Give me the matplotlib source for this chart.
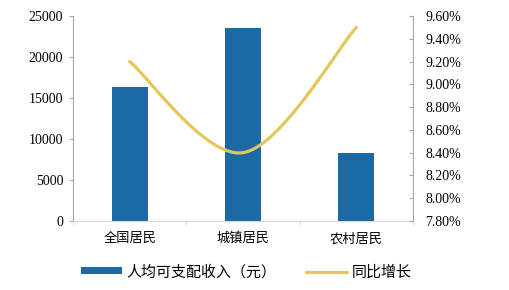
import matplotlib
matplotlib.use("Agg")
from matplotlib import pyplot as plt
import numpy as np

# data
categories = ["全国居民", "城镇居民", "农村居民"]
income = [16300, 23500, 8300]          # 人均可支配收入（元）
growth = [9.2, 8.4, 9.5]               # 同比增长 (%)
left_ticks = [0, 5000, 10000, 15000, 20000, 25000]
right_ticks = [7.8, 8.0, 8.2, 8.4, 8.6, 8.8, 9.0, 9.2, 9.4, 9.6]

BLUE = "#1B6AA5"
GOLD = "#E5C65A"
GREY = "#A6A6A6"
CJK = ["Noto Sans CJK SC", "DejaVu Sans"]


def smooth_curve(xs, ys, n=60):
    """Excel-like smoothed line: Catmull-Rom segments as cubic Beziers."""
    pts = np.column_stack([xs, ys]).astype(float)
    padded = np.vstack([pts[0], pts, pts[-1]])
    t = np.linspace(0, 1, n)[:, None]
    out = []
    for i in range(len(pts) - 1):
        p0, p3 = padded[i + 1], padded[i + 2]
        c1 = p0 + (padded[i + 2] - padded[i]) / 6
        c2 = p3 - (padded[i + 3] - padded[i + 1]) / 6
        seg = ((1 - t) ** 3) * p0 + 3 * ((1 - t) ** 2) * t * c1 + 3 * (1 - t) * t ** 2 * c2 + t ** 3 * p3
        out.append(seg)
    curve = np.vstack(out)
    return curve[:, 0], curve[:, 1]


fig = plt.figure(figsize=(5.1, 2.9), dpi=100)
ax = fig.add_axes([73 / 510, 69 / 290, 340 / 510, 205 / 290])
x = np.arange(len(categories))

ax.bar(x, income, width=0.32, color=BLUE, label="人均可支配收入（元）", zorder=2)
ax.set_xlim(-0.5, len(categories) - 0.5)
ax.set_ylim(0, 25000)
ax.set_yticks(left_ticks)
ax.set_yticklabels([str(v) for v in left_ticks], family="Liberation Serif", fontsize=10)
ax.set_xticks(x)
ax.set_xticklabels(categories, family=CJK, fontsize=9.5)
ax.set_xticks(np.arange(-0.5, len(categories)), minor=True)
ax.tick_params(axis="x", which="major", length=0, pad=8)
ax.tick_params(axis="x", which="minor", length=3, color="#D0D0D0")
ax.tick_params(axis="y", length=3, color=GREY, pad=4)
for s in ["top", "right"]:
    ax.spines[s].set_visible(False)
ax.spines["left"].set_color(GREY)
ax.spines["bottom"].set_color("#D9D9D9")

ax2 = ax.twinx()
sx, sy = smooth_curve(x, growth)
ax2.plot(sx, sy, color=GOLD, lw=2.3, solid_capstyle="round", label="同比增长", zorder=3)
ax2.set_ylim(7.8, 9.6)
ax2.set_yticks(right_ticks)
ax2.set_yticklabels(["%.2f%%" % v for v in right_ticks], family="Liberation Serif", fontsize=10)
ax2.tick_params(axis="y", direction="in", length=3, color=GREY, pad=9)
for s in ["top", "left", "bottom"]:
    ax2.spines[s].set_visible(False)
ax2.spines["right"].set_color(GREY)

h1, l1 = ax.get_legend_handles_labels()
h2, l2 = ax2.get_legend_handles_labels()
fig.legend(h1 + h2, l1 + l2, loc="center", bbox_to_anchor=(0.483, 18 / 290), ncol=2,
           frameon=False, prop={"family": CJK, "size": 10.8}, handlelength=2.7,
           handleheight=0.35, columnspacing=2.0, handletextpad=0.3)

fig.savefig("out.png", dpi=100)
